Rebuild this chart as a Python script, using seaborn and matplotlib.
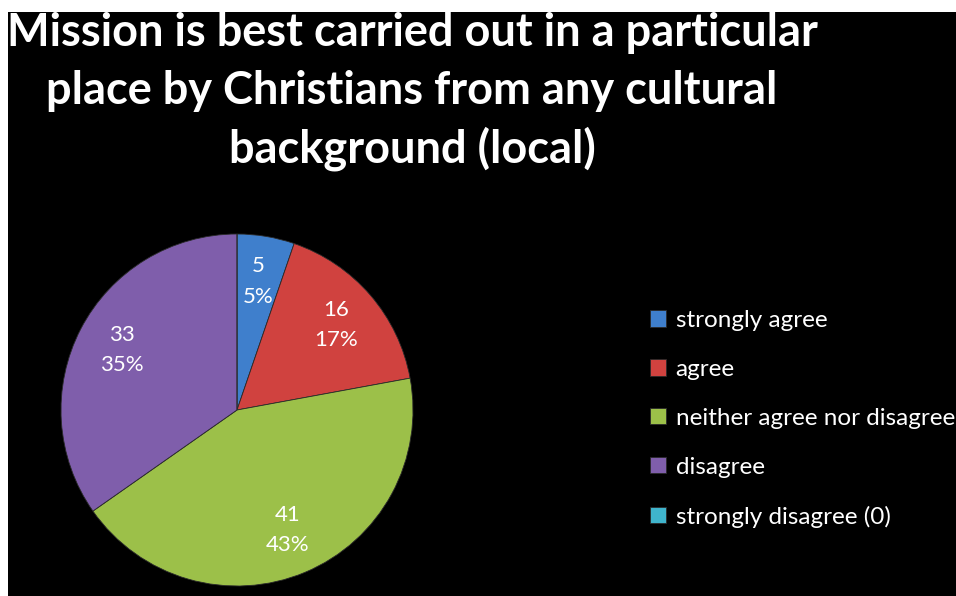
import matplotlib
matplotlib.use("Agg")
import matplotlib.pyplot as plt
from matplotlib.patches import Rectangle
import seaborn as sns

categories = ["strongly agree", "agree", "neither agree nor disagree",
              "disagree", "strongly disagree (0)"]
counts = [5, 16, 41, 33, 0]
title_lines = ["Mission is best carried out in a particular",
               "place by Christians from any cultural",
               "background (local)"]
colors = ["#3f7fcc", "#d0423f", "#9cc049", "#7f5eab", "#3fb4cc"]

sns.set_theme(style="white")
plt.rcParams["font.family"] = ["Lato", "DejaVu Sans"]

W, H = 956, 596
fig = plt.figure(figsize=(W / 100, H / 100), dpi=100, facecolor="white")

# black slide area
fig.patches.append(Rectangle((8 / W, 0), 1 - 8 / W, (H - 12) / H,
                             transform=fig.transFigure, facecolor="black",
                             edgecolor="none", zorder=-10))

# title, three centred lines
for text, yc in zip(title_lines, [33, 91, 149]):
    fig.text(412 / W, 1 - yc / H, text, ha="center", va="center",
             fontsize=32.5, fontweight="bold", color="white")

# pie
cx, cy, r = 237, 410, 176
ax = fig.add_axes([(cx - r) / W, (H - cy - r) / H, 2 * r / W, 2 * r / H])
ax.set_facecolor("none")
ax.set_zorder(1)
total = sum(counts)


def fmt(pct):
    v = int(round(pct * total / 100))
    return "" if v == 0 else f"{v}\n{pct:.0f}%"


wedges, _, autotexts = ax.pie(counts, colors=colors, startangle=90,
                              counterclock=False, radius=1,
                              autopct=fmt, pctdistance=0.74,
                              wedgeprops=dict(edgecolor="#2a2a2a", linewidth=0.6),
                              textprops=dict(color="white", fontsize=16,
                                             linespacing=1.65))
for w in wedges:
    w.set_clip_on(False)
ax.set_xlim(-1, 1)
ax.set_ylim(-1, 1)
ax.set_aspect("equal")
ax.axis("off")

# legend
leg = fig.legend(wedges, categories, loc="upper left",
                 bbox_to_anchor=(650 / W, 1 - 310 / H), frameon=False,
                 fontsize=17.5, labelcolor="white", handlelength=0.65,
                 handleheight=0.65, handletextpad=0.4, labelspacing=1.15,
                 borderpad=0, borderaxespad=0)

fig.savefig("out.png", dpi=100, facecolor=fig.get_facecolor())
